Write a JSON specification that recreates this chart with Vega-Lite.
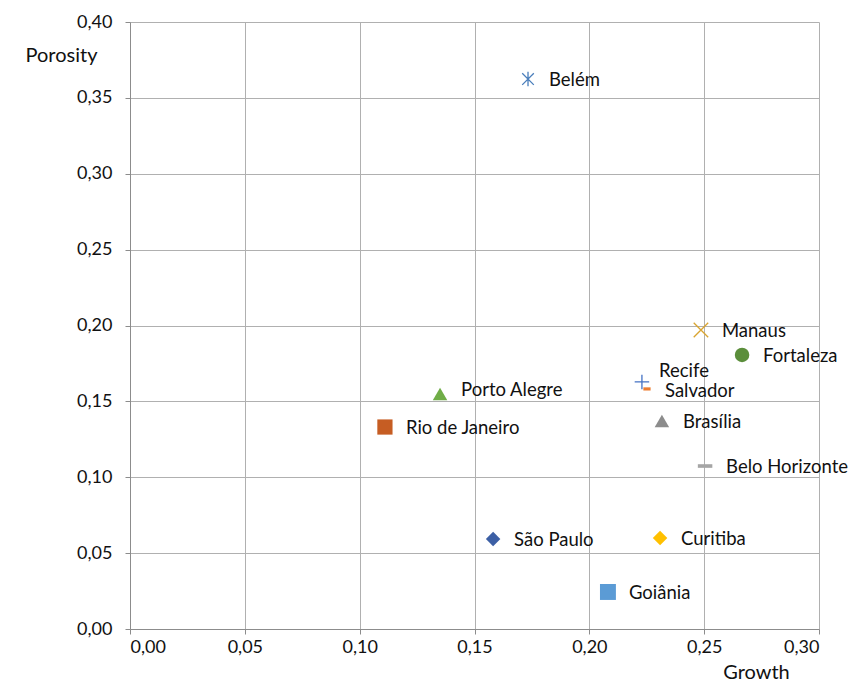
{
  "$schema": "https://vega.github.io/schema/vega-lite/v6.json",
  "width": 689,
  "height": 607,
  "autosize": {"type": "none"},
  "padding": {"left": 130, "top": 22, "right": 30, "bottom": 54},
  "background": "white",
  "config": {"view": {"stroke": null}, "font": "Lato"},
  "data": {
    "values": [
      {"city": "Belém", "growth": 0.1733, "porosity": 0.3624},
      {"city": "Manaus", "growth": 0.2486, "porosity": 0.1970},
      {"city": "Fortaleza", "growth": 0.2665, "porosity": 0.1806},
      {"city": "Recife", "growth": 0.2229, "porosity": 0.1628},
      {"city": "Salvador", "growth": 0.2251, "porosity": 0.1582},
      {"city": "Brasília", "growth": 0.2316, "porosity": 0.1371},
      {"city": "Belo Horizonte", "growth": 0.2504, "porosity": 0.1074},
      {"city": "Porto Alegre", "growth": 0.1350, "porosity": 0.1549},
      {"city": "Rio de Janeiro", "growth": 0.1110, "porosity": 0.1331},
      {"city": "São Paulo", "growth": 0.1581, "porosity": 0.0593},
      {"city": "Curitiba", "growth": 0.2308, "porosity": 0.0600},
      {"city": "Goiânia", "growth": 0.2081, "porosity": 0.0244}
    ]
  },
  "encoding": {
    "x": {
      "field": "growth", "type": "quantitative",
      "scale": {"domain": [0, 0.3], "nice": false},
      "axis": {
        "values": [0, 0.05, 0.1, 0.15, 0.2, 0.25, 0.3],
        "labelExpr": "replace(format(datum.value, '.2f'), '.', ',')",
        "title": "Growth",
        "titleX": 626, "titleY": 43, "titleAlign": "center", "titleBaseline": "middle",
        "titleFont": "Lato", "titleFontSize": 20, "titleFontWeight": "normal", "titleColor": "#111111",
        "labelFont": "Lato", "labelFontSize": 18, "labelColor": "#111111",
        "labelPadding": 4, "tickSize": 5,
        "grid": true, "gridColor": "#b0b0b0", "gridWidth": 1,
        "domainColor": "#8c8c8c", "tickColor": "#8c8c8c"
      }
    },
    "y": {
      "field": "porosity", "type": "quantitative",
      "scale": {"domain": [0, 0.4], "nice": false},
      "axis": {
        "values": [0, 0.05, 0.1, 0.15, 0.2, 0.25, 0.3, 0.35, 0.4],
        "labelExpr": "replace(format(datum.value, '.2f'), '.', ',')",
        "title": "Porosity",
        "titleAngle": 0, "titleX": -69, "titleY": 33, "titleAlign": "center", "titleBaseline": "middle",
        "titleFont": "Lato", "titleFontSize": 20, "titleFontWeight": "normal", "titleColor": "#111111",
        "labelFont": "Lato", "labelFontSize": 18, "labelColor": "#111111",
        "labelPadding": 13, "tickSize": 5,
        "grid": true, "gridColor": "#b0b0b0", "gridWidth": 1,
        "domainColor": "#8c8c8c", "tickColor": "#8c8c8c"
      }
    }
  },
  "layer": [
    {
      "mark": {"type": "point", "size": 210, "strokeWidth": 1.3, "opacity": 1},
      "encoding": {
        "shape": {
          "field": "city", "type": "nominal", "legend": null,
          "scale": {
            "domain": ["Belém", "Manaus", "Fortaleza", "Recife", "Salvador", "Brasília", "Belo Horizonte", "Porto Alegre", "Rio de Janeiro", "São Paulo", "Curitiba", "Goiânia"],
            "range": [
              "M0,-1L0,1M-0.8,-0.8L0.8,0.8M-0.8,0.8L0.8,-0.8",
              "M-1,-1L1,1M-1,1L1,-1",
              "circle",
              "M-1,0L1,0M0,-1L0,1",
              "M-0.5,-0.22L0.5,-0.22L0.5,0.22L-0.5,0.22Z",
              "triangle-up",
              "M-1,-0.25L1,-0.25L1,0.25L-1,0.25Z",
              "triangle-up",
              "M-1.05,-1.05L1.05,-1.05L1.05,1.05L-1.05,1.05Z",
              "diamond",
              "diamond",
              "M-1.1,-1.1L1.1,-1.1L1.1,1.1L-1.1,1.1Z"
            ]
          }
        },
        "stroke": {
          "field": "city", "type": "nominal", "legend": null,
          "scale": {
            "domain": ["Belém", "Manaus", "Fortaleza", "Recife", "Salvador", "Brasília", "Belo Horizonte", "Porto Alegre", "Rio de Janeiro", "São Paulo", "Curitiba", "Goiânia"],
            "range": ["#4a7ebb", "#d9a430", "transparent", "#4472c4", "transparent", "transparent", "transparent", "transparent", "transparent", "transparent", "transparent", "transparent"]
          }
        },
        "fill": {
          "field": "city", "type": "nominal", "legend": null,
          "scale": {
            "domain": ["Belém", "Manaus", "Fortaleza", "Recife", "Salvador", "Brasília", "Belo Horizonte", "Porto Alegre", "Rio de Janeiro", "São Paulo", "Curitiba", "Goiânia"],
            "range": ["transparent", "transparent", "#5b8e3b", "transparent", "#ed7d31", "#8c8c8c", "#a5a5a5", "#70ad47", "#c65d23", "#3c5fa5", "#ffc000", "#5b9bd5"]
          }
        }
      }
    },
    {
      "transform": [{"filter": "datum.city !== 'Recife' && datum.city !== 'Salvador' && datum.city !== 'Porto Alegre'"}],
      "mark": {"type": "text", "align": "left", "baseline": "middle", "dx": 21, "dy": 1, "font": "Lato", "fontSize": 18.5, "color": "#111111"},
      "encoding": {"text": {"field": "city", "type": "nominal"}}
    },
    {
      "transform": [{"filter": "datum.city === 'Porto Alegre'"}],
      "mark": {"type": "text", "align": "left", "baseline": "middle", "dx": 21, "dy": -4, "font": "Lato", "fontSize": 18.5, "color": "#111111"},
      "encoding": {"text": {"field": "city", "type": "nominal"}}
    },
    {
      "transform": [{"filter": "datum.city === 'Salvador'"}],
      "mark": {"type": "text", "align": "left", "baseline": "middle", "dx": 18, "dy": 2, "font": "Lato", "fontSize": 18.5, "color": "#111111"},
      "encoding": {"text": {"field": "city", "type": "nominal"}}
    },
    {
      "transform": [{"filter": "datum.city === 'Recife'"}],
      "mark": {"type": "text", "align": "left", "baseline": "middle", "dx": 17, "dy": -11, "font": "Lato", "fontSize": 18.5, "color": "#111111"},
      "encoding": {"text": {"field": "city", "type": "nominal"}}
    }
  ]
}
